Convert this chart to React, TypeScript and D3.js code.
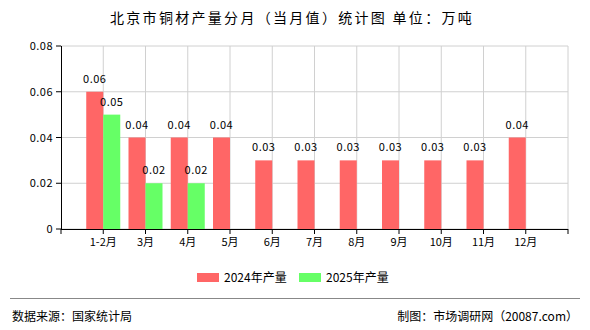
import React from "react";
import * as d3 from "d3";

const categories = ["1-2月", "3月", "4月", "5月", "6月", "7月", "8月", "9月", "10月", "11月", "12月"];
const series2024 = [0.06, 0.04, 0.04, 0.04, 0.03, 0.03, 0.03, 0.03, 0.03, 0.03, 0.04];
const series2025: (number | null)[] = [0.05, 0.02, 0.02, null, null, null, null, null, null, null, null];
const yTicks = [0, 0.02, 0.04, 0.06, 0.08];
const seriesNames = ["2024年产量", "2025年产量"];
const colors = ["#FF6666", "#66FF66"];

const W = 590, H = 330;
const left = 61, right = 568, top = 46, bottom = 229;
const FONT = "'Noto Sans CJK SC', 'DejaVu Sans', sans-serif";

export default function App() {
  const slots = d3.range(categories.length + 1);
  const x = d3.scaleLinear().domain([0, categories.length + 1]).range([left, right]);
  const y = d3.scaleLinear().domain([0, 0.08]).range([bottom, top]);
  const barW = 17;
  const fmt = (v: number) => (v === 0 ? "0" : d3.format(".2f")(v));

  return (
    <svg width={W} height={H} style={{ position: "absolute", left: 0, top: 0 }} fontFamily={FONT}>
      <rect width={W} height={H} fill="#fff" />
      <text x={110} y={23} fontSize={14} letterSpacing={2.3} fill="#000">
        北京市铜材产量分月（当月值）统计图 单位：万吨
      </text>
      {/* grid */}
      {yTicks.map((t) => (
        <line key={"hy" + t} x1={left} x2={right} y1={y(t)} y2={y(t)} stroke="#d0d0d0" strokeWidth={1} />
      ))}
      {slots.map((i) => (
        <line key={"vx" + i} x1={x(i + 1)} x2={x(i + 1)} y1={top} y2={bottom} stroke="#d0d0d0" strokeWidth={1} />
      ))}
      {/* bars */}
      {categories.map((c, i) => {
        const cx = x(i + 1);
        const v1 = series2024[i];
        const v2 = series2025[i];
        return (
          <g key={c}>
            {v1 != null && (
              <g>
                <rect x={cx - barW} y={y(v1)} width={barW} height={bottom - y(v1)} fill={colors[0]} />
                <text x={cx - barW / 2} y={y(v1) - 9} textAnchor="middle" fontSize={11} letterSpacing={0.5} fill="#000">
                  {fmt(v1)}
                </text>
              </g>
            )}
            {v2 != null && (
              <g>
                <rect x={cx} y={y(v2)} width={barW} height={bottom - y(v2)} fill={colors[1]} />
                <text x={cx + barW / 2} y={y(v2) - 9} textAnchor="middle" fontSize={11} letterSpacing={0.5} fill="#000">
                  {fmt(v2)}
                </text>
              </g>
            )}
          </g>
        );
      })}
      {/* axes */}
      <line x1={left + 0.5} x2={left + 0.5} y1={top} y2={bottom} stroke="#000" />
      {yTicks.map((t) => (
        <g key={"yt" + t}>
          <line x1={left - 5} x2={left} y1={y(t)} y2={y(t)} stroke="#000" />
          <text x={left - 8} y={y(t) + 4} textAnchor="end" fontSize={11} letterSpacing={0.5} fill="#000">
            {fmt(t)}
          </text>
        </g>
      ))}
      <line x1={left} x2={right} y1={bottom + 0.5} y2={bottom + 0.5} stroke="#000" />
      {d3.range(categories.length + 2).map((i) => (
        <line key={"xt" + i} x1={x(i)} x2={x(i)} y1={bottom} y2={bottom + 5} stroke="#000" />
      ))}
      {categories.map((c, i) => (
        <text key={"xl" + c} x={x(i + 1)} y={bottom + 17} textAnchor="middle" fontSize={11} fill="#000">
          {c}
        </text>
      ))}
      {/* legend */}
      {seriesNames.map((n, i) => (
        <g key={n}>
          <rect x={197 + i * 102} y={273} width={22} height={9} fill={colors[i]} />
          <text x={224 + i * 102} y={282} fontSize={12} fill="#000">
            {n}
          </text>
        </g>
      ))}
      {/* footer */}
      <line x1={10} x2={580} y1={298.5} y2={298.5} stroke="#888" strokeWidth={1} />
      <text x={12} y={321} fontSize={12} fill="#000">数据来源：国家统计局</text>
      <text x={578} y={321} textAnchor="end" fontSize={12} fill="#000">制图：市场调研网（20087.com）</text>
    </svg>
  );
}
